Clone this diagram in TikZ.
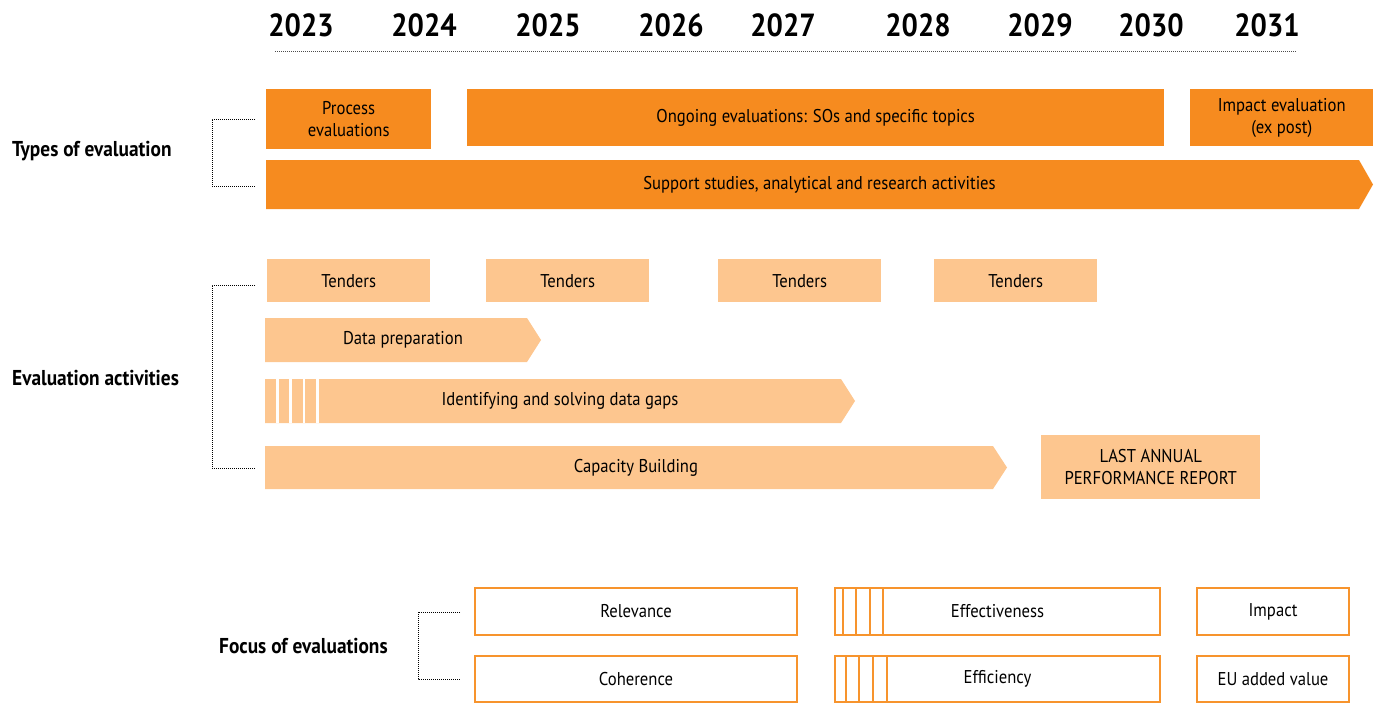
\documentclass[tikz,border=0pt]{standalone}
\usepackage{fontspec}
\setmainfont[FakeStretch=0.9]{PT Sans}
\usetikzlibrary{positioning,calc}

\definecolor{evaldark}{RGB}{246,139,31}
\definecolor{evallight}{RGB}{253,198,143}
\definecolor{evalline}{RGB}{247,148,45}

% filled bar with a pointed right end: name, fill, left, tip, top, bottom, label
\newcommand{\bararrow}[7]{%
  \fill[#2] (#3,#5) -- ({#4-14},#5) -- (#4,{(#5+#6)/2}) -- ({#4-14},#6) -- (#3,#6) -- cycle;
  \node[bartext] (#1) at ({(#3+#4)/2},{(#5+#6)/2}) {#7};
}

\begin{document}
\begin{tikzpicture}[x=1pt, y=-1pt]
  \tikzset{
    year/.style={font=\fontsize{32}{32}\selectfont\bfseries, inner sep=0pt},
    section/.style={font=\fontsize{21.5}{24}\selectfont\bfseries, anchor=west, inner sep=0pt},
    bartext/.style={font=\fontsize{18.5}{22}\selectfont, align=center, inner sep=0pt},
    darkbox/.style={bartext, fill=evaldark, anchor=north west},
    lightbox/.style={bartext, fill=evallight, anchor=north west},
    focusbox/.style={bartext, draw=evalline, line width=2pt, fill=white, anchor=north west},
    bracket/.style={black, line width=1pt, dash pattern=on 1pt off 1pt},
    timeline/.style={black!70, line width=1pt, dash pattern=on 1pt off 1pt}
  }
  \useasboundingbox (0,0) rectangle (1380,704);

  % years along the top
  \foreach \yr/\x in {2023/301, 2024/424, 2025/548, 2026/671, 2027/783,
                      2028/918, 2029/1040, 2030/1151, 2031/1267}
    \node[year] (y\yr) at (\x,25) {\yr};
  \coordinate (tl0) at (275,51);
  \coordinate (tl1) at (1297,51);
  \draw[timeline] (tl0) -- (tl1);

  % types of evaluation
  \node[section] (types) at (12,151) {Types of evaluation};
  \node[darkbox, minimum width=165, minimum height=60] (proc) at (266,89) {Process\\evaluations};
  \node[darkbox, minimum width=697, minimum height=57] (ongo) at (467,89) {Ongoing evaluations: SOs and specific topics};
  \node[darkbox, minimum width=183, minimum height=57] (impev) at (1190,89) {Impact evaluation\\(ex post)};
  \bararrow{supp}{evaldark}{266}{1373}{160}{209}{Support studies, analytical and research activities}
  \coordinate (ta) at (255,119);
  \coordinate (tb) at (255,186);
  \draw[bracket] (ta) -- ++(-43,0) |- (tb);

  % evaluation activities
  \node[section] (acts) at (12,378) {Evaluation activities};
  \foreach \x [count=\i] in {267, 486, 718, 934}
    \node[lightbox, minimum width=163, minimum height=43] (tender\i) at (\x,259) {Tenders};
  \bararrow{prep}{evallight}{265}{541}{318}{362}{Data preparation}
  \bararrow{gaps}{evallight}{265}{855}{379}{423}{Identifying and solving data gaps}
  \foreach \x in {277.5, 290.5, 304, 317.3}
    \draw[white, line width=2.5pt] (\x,379) -- (\x,423);
  \bararrow{capa}{evallight}{265}{1007}{446}{489}{Capacity Building}
  \node[lightbox, minimum width=219, minimum height=64] (report) at (1041,435) {LAST ANNUAL\\PERFORMANCE REPORT};
  \coordinate (aa) at (255,285);
  \coordinate (ab) at (255,468);
  \draw[bracket] (aa) -- ++(-43,0) |- (ab);

  % focus of evaluations
  \node[section] (focus) at (219,646) {Focus of evaluations};
  \node[focusbox, minimum width=322, minimum height=47] (relev) at (474,587) {Relevance};
  \node[focusbox, minimum width=322, minimum height=46] (coher) at (474,655) {Coherence};
  \node[focusbox, minimum width=325, minimum height=47] (effect) at (834,587) {Effectiveness};
  \node[focusbox, minimum width=325, minimum height=46] (effic) at (834,655) {Efficiency};
  \node[focusbox, minimum width=152, minimum height=47] (impact) at (1196,587) {Impact};
  \node[focusbox, minimum width=152, minimum height=46] (added) at (1196,655) {EU added value};
  \foreach \x in {843, 856, 870, 883}
    \draw[evalline, line width=2pt] (\x,587) -- (\x,634);
  \foreach \x in {846, 859, 873, 887}
    \draw[evalline, line width=2pt] (\x,655) -- (\x,701);
  \coordinate (fa) at (460,612);
  \coordinate (fb) at (460,679);
  \draw[bracket] (fa) -- ++(-42,0) |- (fb);
\end{tikzpicture}
\end{document}
